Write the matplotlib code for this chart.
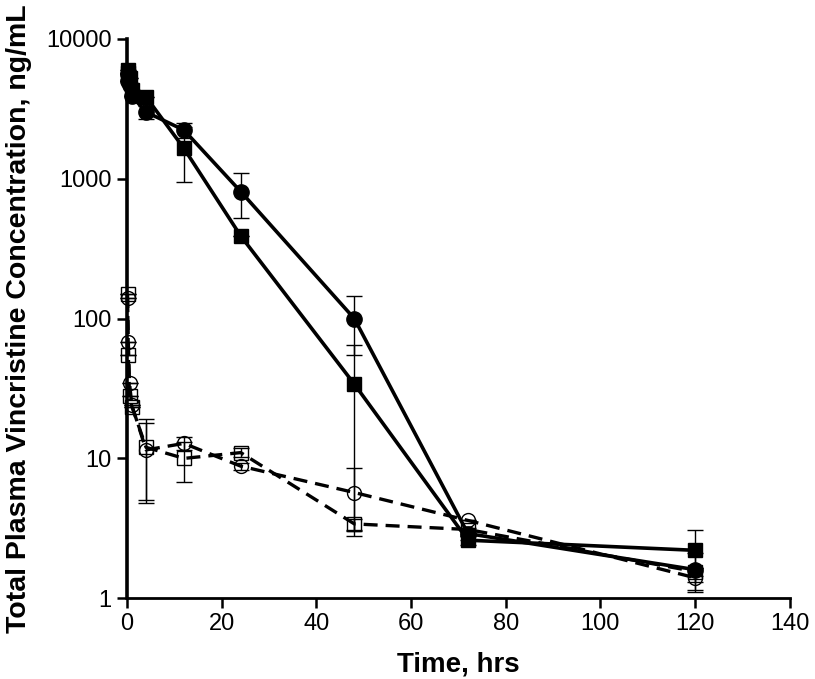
import matplotlib
matplotlib.use("Agg")
import matplotlib.pyplot as plt
from matplotlib.ticker import FixedLocator, FixedFormatter, NullLocator

plt.rcParams['font.family'] = ['Liberation Sans', 'DejaVu Sans']

# Time points (hrs)
time = [0.083, 0.25, 0.5, 1, 4, 12, 24, 48, 72, 120]

# Solid series (filled markers)
circ_filled = [5600, 5000, 4700, 3900, 3000, 2230, 810, 100, 2.9, 1.6]
circ_filled_err = [0, 0, 0, 0, 330, 280, 290, 45, 0.3, 0.5]
sq_filled = [6000, 5700, 5300, 4300, 3850, 1650, 390, 34, 2.6, 2.2]
sq_filled_err = [0, 0, 0, 0, 0, 700, 0, 31, 0.2, 0.9]

# Dashed series (open markers)
circ_open = [140, 68, 34.5, 24, 11.5, 12.8, 8.8, 5.7, 3.6, 1.4]
circ_open_err = [0, 0, 0, 0, 6.5, 1.4, 0.5, 2.9, 0, 0.25]
sq_open = [150, 55, 28, 23.5, 12, 10, 11, 3.4, 3.1, 1.55]
sq_open_err = [0, 0, 0, 0, 7.2, 3.2, 0.8, 0.3, 0, 0.1]

yticks = [1, 10, 100, 1000, 10000]
ytick_labels = ["1", "10", "100", "1000", "10000"]
xticks = [0, 20, 40, 60, 80, 100, 120, 140]

fig = plt.figure(figsize=(8.15, 6.79), dpi=100)
ax = fig.add_axes([0.156, 0.119, 0.813, 0.8236])

ebkw = dict(ecolor='black', elinewidth=1.0, capsize=6, capthick=1.0)

ax.errorbar(time, circ_open, yerr=circ_open_err, color='black', lw=2.4,
            ls=(0, (4.2, 2.4)), marker='o', ms=10, mfc='none', mec='black',
            mew=1.0, zorder=2, **ebkw)
ax.errorbar(time, sq_open, yerr=sq_open_err, color='black', lw=2.4,
            ls=(0, (4.2, 2.4)), marker='s', ms=10, mfc='none', mec='black',
            mew=1.0, zorder=2, **ebkw)
ax.errorbar(time, circ_filled, yerr=circ_filled_err, color='black', lw=2.6,
            ls='-', marker='o', ms=11, mfc='black', mec='black', zorder=3, **ebkw)
ax.errorbar(time, sq_filled, yerr=sq_filled_err, color='black', lw=2.6,
            ls='-', marker='s', ms=10, mfc='black', mec='black', zorder=3, **ebkw)

ax.set_yscale('log')
ax.set_ylim(1, 10000)
ax.set_xlim(0, 140)
ax.yaxis.set_major_locator(FixedLocator(yticks))
ax.yaxis.set_major_formatter(FixedFormatter(ytick_labels))
ax.yaxis.set_minor_locator(NullLocator())
ax.set_xticks(xticks)

for s in ['top', 'right']:
    ax.spines[s].set_visible(False)
ax.spines['left'].set_linewidth(2.6)
ax.spines['bottom'].set_linewidth(2.0)
ax.tick_params(axis='both', direction='out', length=7, width=1.8, labelsize=17)
ax.tick_params(axis='y', pad=4)
for lab in ax.get_xticklabels() + ax.get_yticklabels():
    lab.set_family(['Liberation Sans Narrow', 'Liberation Sans', 'DejaVu Sans'])

ax.set_xlabel('Time, hrs', fontsize=20, fontweight='bold', labelpad=12)
ax.set_ylabel('Total Plasma Vincristine Concentration, ng/mL', fontsize=20.5,
              fontweight='bold', labelpad=10)
for art in ax.get_children():
    try:
        art.set_clip_on(False)
    except Exception:
        pass

fig.savefig('out.png', dpi=100)
